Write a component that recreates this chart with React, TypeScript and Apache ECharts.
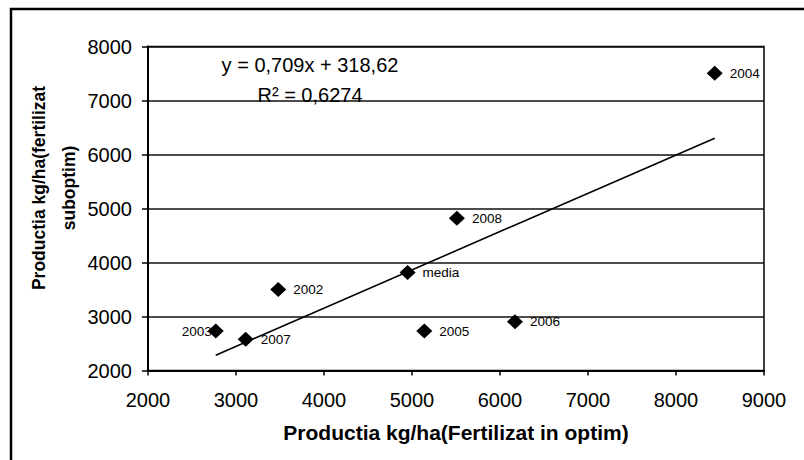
import React, { useEffect, useRef } from "react";
import * as echarts from "echarts";

// ---- data ----
const pointLabels = ["2002", "2003", "2004", "2005", "2006", "2007", "2008", "media"];
const xValues = [3480, 2770, 8440, 5140, 6170, 3110, 5510, 4950];
const yValues = [3500, 2730, 7505, 2730, 2905, 2580, 4820, 3815];

const xMin = 2000;
const xMax = 9000;
const yMin = 2000;
const yMax = 8000;
const tickStep = 1000;

const trendSlope = 0.709;
const trendIntercept = 318.62;
const equationText = "y = 0,709x + 318,62";
const r2Text = "R² = 0,6274";

const xAxisTitle = "Productia kg/ha(Fertilizat in optim)";
const yAxisTitle = "Productia kg/ha(fertilizat\nsuboptim)";

const FONT = "'Liberation Sans', Arial, sans-serif";

export default function App() {
  const ref = useRef<HTMLDivElement>(null);

  useEffect(() => {
    if (!ref.current) return;
    const chart = echarts.init(ref.current, null, { renderer: "svg" });

    const scatterData = pointLabels.map((name, i) => ({
      name,
      value: [xValues[i], yValues[i]],
      label:
        name === "2003"
          ? { position: "left" as const, distance: -4 }
          : undefined,
    }));

    const tx0 = Math.min(...xValues);
    const tx1 = Math.max(...xValues);
    const trendData = [
      [tx0, trendSlope * tx0 + trendIntercept],
      [tx1, trendSlope * tx1 + trendIntercept],
    ];

    const plain = (v: number) => String(v);

    chart.setOption({
      animation: false,
      backgroundColor: "#fff",
      grid: {
        left: 148,
        right: 40,
        top: 46.5,
        bottom: 89.5,
        show: true,
        borderColor: "#000",
        borderWidth: 1.5,
      },
      xAxis: {
        type: "value",
        min: xMin,
        max: xMax,
        interval: tickStep,
        axisLine: { show: true, onZero: false, lineStyle: { color: "#000", width: 2 } },
        axisTick: { show: true, length: 5, lineStyle: { color: "#000", width: 1.5 } },
        axisLabel: { color: "#000", fontSize: 20, fontFamily: FONT, margin: 19, formatter: plain },
        splitLine: { show: false },
      },
      yAxis: {
        type: "value",
        min: yMin,
        max: yMax,
        interval: tickStep,
        axisLine: { show: true, onZero: false, lineStyle: { color: "#000", width: 2 } },
        axisTick: { show: true, length: 6, lineStyle: { color: "#000", width: 1.5 } },
        axisLabel: { color: "#000", fontSize: 20, fontFamily: FONT, margin: 16, formatter: plain },
        splitLine: { show: true, lineStyle: { color: "#111", width: 1.6 } },
      },
      series: [
        {
          type: "line",
          data: trendData,
          symbol: "none",
          lineStyle: { color: "#000", width: 1.6 },
          z: 2,
        },
        {
          type: "scatter",
          data: scatterData,
          symbol: "diamond",
          symbolSize: [16, 15],
          itemStyle: { color: "#000", opacity: 1 },
          label: {
            show: true,
            position: "right",
            distance: 7,
            formatter: "{b}",
            color: "#000",
            opacity: 1,
            fontSize: 13.5,
            fontFamily: FONT,
          },
          z: 3,
        },
      ],
      graphic: [
        {
          type: "rect",
          shape: { x: 11, y: 9, width: 900, height: 600 },
          style: { fill: "none", stroke: "#000", lineWidth: 2.5 },
          silent: true,
        },
        {
          type: "text",
          x: 310,
          y: 65,
          style: {
            text: equationText,
            font: `20px ${FONT}`,
            fill: "#000",
            textAlign: "center",
            textVerticalAlign: "middle",
          },
          z: 10,
        },
        {
          type: "text",
          x: 310,
          y: 95,
          style: {
            text: r2Text,
            font: `20px ${FONT}`,
            fill: "#000",
            textAlign: "center",
            textVerticalAlign: "middle",
          },
          z: 10,
        },
        {
          type: "text",
          x: 456,
          y: 432,
          style: {
            text: xAxisTitle,
            font: `bold 21px ${FONT}`,
            fill: "#000",
            textAlign: "center",
            textVerticalAlign: "middle",
          },
        },
        {
          type: "text",
          x: 54,
          y: 188,
          rotation: Math.PI / 2,
          style: {
            text: yAxisTitle,
            font: `bold 17.5px ${FONT}`,
            lineHeight: 30,
            fill: "#000",
            textAlign: "center",
            textVerticalAlign: "middle",
          },
        },
      ],
    });

    return () => chart.dispose();
  }, []);

  return (
    <div
      ref={ref}
      style={{ position: "absolute", left: 0, top: 0, width: 804, height: 460 }}
    />
  );
}
